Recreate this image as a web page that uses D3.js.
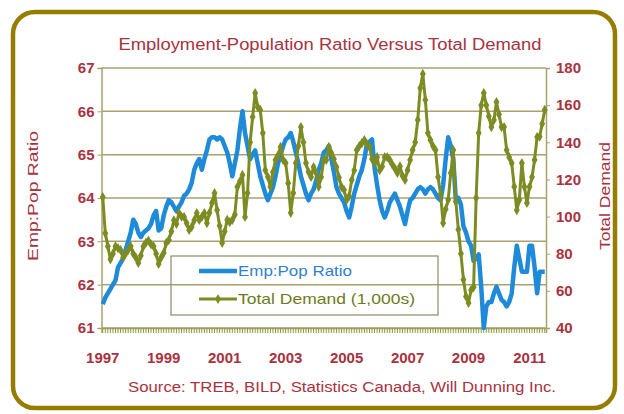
<!DOCTYPE html>
<html>
<head>
<meta charset="utf-8">
<script src="https://cdn.jsdelivr.net/npm/d3@7"></script>
<style>
  body { margin: 0; background: #fff; }
  svg { display: block; font-family: "Liberation Sans", Arial, sans-serif; }
</style>
</head>
<body>
<div id="plot"></div>
<script>
// monthly, Jan 1997 .. Jul 2011
const empPopRatio = [
  61.55, 61.7, 61.8, 61.9, 62.0, 62.1, 62.4, 62.5, 62.6, 62.8, 63.0, 63.2,
  63.5, 63.4, 63.2, 63.1, 63.2, 63.25, 63.3, 63.4, 63.6, 63.7, 63.25, 63.3,
  63.6, 63.8, 63.95, 63.9, 63.8, 63.7, 63.8, 63.9, 64.05, 64.1, 64.2, 64.35,
  64.65, 64.8, 64.9, 64.65, 64.9, 65.1, 65.35, 65.4, 65.4, 65.35, 65.4, 65.35,
  65.2, 65.05, 64.8, 64.5, 64.8, 65.1, 65.6, 66.0, 65.5, 65.2, 64.9, 65.0,
  65.1, 64.8, 64.5, 64.3, 64.1, 63.95, 64.1, 64.25, 64.5, 64.8, 65.0, 65.2,
  65.35, 65.4, 65.5, 65.3, 65.05, 64.8, 64.5, 64.3, 64.1, 63.95, 64.1, 64.2,
  64.4, 64.65, 64.8, 65.05, 65.1, 65.2, 64.9, 64.6, 64.25, 64.1, 64.0, 63.9,
  63.7, 63.55, 63.8, 64.1, 64.3, 64.5, 64.65, 64.9, 65.25, 65.3, 65.35, 64.7,
  64.3, 63.95, 63.7, 63.55, 63.7, 63.9, 64.0, 64.1, 63.95, 63.8, 63.6, 63.4,
  63.7, 63.95, 64.0, 64.1, 64.2, 64.25, 64.2, 64.1, 64.2, 64.25, 64.2, 64.1,
  64.0, 63.95, 64.3, 64.9, 65.4, 65.2, 64.9, 63.95, 64.0, 63.85, 63.35, 63.2,
  63.0, 62.9, 62.55, 62.6, 62.7, 61.95, 61.0, 61.5, 61.6, 61.6, 61.8, 61.95,
  61.8, 61.65, 61.6, 61.5, 61.6, 61.8, 62.4, 62.9, 62.6, 62.3, 62.3, 62.3,
  62.9, 62.9, 62.4, 61.8, 62.3, 62.3, 62.3
];
const totalDemand = [
  110.5, 91, 84, 77, 80, 84, 83, 82, 78, 80, 82, 84,
  80, 78, 75, 79, 84, 86, 87, 85, 84, 80, 74.5, 78,
  80.4, 85.8, 87.4, 92, 98, 96, 101.9, 100, 99.8, 96.5, 92.8, 94.4,
  98, 101.9, 98.2, 99.8, 101.9, 96.5, 102, 107.3, 112.7, 103.5, 95, 85.8,
  92, 98.2, 97, 98.2, 101, 116, 119, 122.4, 99.8, 112.7, 140, 153.6,
  166.5, 159, 157.4, 145, 125, 121.3, 116, 124, 130.5, 133, 137.5, 130.5,
  128.8, 118, 102, 112.7, 128.8, 138, 148.2, 140, 128.8, 124, 121.3, 126.7,
  123.5, 116, 121.3, 130.5, 130.5, 137.5, 134.2, 131, 126.7, 121, 116, 114.3,
  109, 111, 119.7, 125, 135.8, 138, 139.6, 141.2, 139, 137.5, 131, 128.8,
  132, 125, 127, 132, 132, 130.5, 128, 126, 123.5, 127, 122, 119.7,
  125, 130.5, 135.8, 140, 152, 169.2, 176.8, 162.8, 145, 141.2, 138, 135.8,
  121.3, 112, 96.5, 104, 109, 123.5, 135.8, 108, 93, 80, 66, 57,
  53.5, 60.5, 62, 110, 145, 160, 166.5, 160, 154, 148.2, 152, 161.7,
  155, 148.2, 148.2, 135.8, 132, 128.8, 116, 103.5, 109, 128.8, 116, 107.3,
  116, 121.3, 130.5, 142.8, 143, 150, 157.4
];
const months = d3.range(empPopRatio.length).map(i => d3.timeFormat("%Y-%m")(new Date(1997, i, 1)));
const yearLabels = ["1997", "1999", "2001", "2003", "2005", "2007", "2009", "2011"];
const leftTicks = [61, 62, 63, 64, 65, 66, 67];
const rightTicks = [40, 60, 80, 100, 120, 140, 160, 180];

const W = 624, H = 414;
const plot = {left: 101.5, right: 546, top: 68, bottom: 328};
const red = "#a8323e", blue = "#1e8ad8", green = "#7d8c22", grid = "#a8a270";

const svg = d3.select("#plot").append("svg").attr("width", W).attr("height", H);

// frame
svg.append("rect")
   .attr("x", 13).attr("y", 12).attr("width", 602).attr("height", 396)
   .attr("rx", 22).attr("ry", 22)
   .attr("fill", "#fff").attr("stroke", "#957d00").attr("stroke-width", 4.5);

svg.append("text")
   .attr("x", 330).attr("y", 50).attr("text-anchor", "middle")
   .attr("fill", red).style("font-size", "16px")
   .attr("textLength", 423).attr("lengthAdjust", "spacingAndGlyphs")
   .text("Employment-Population Ratio Versus Total Demand");

const x = d3.scaleBand().domain(months).range([plot.left, plot.right]).paddingInner(0).paddingOuter(0);
const cx = m => x(m) + x.bandwidth() / 2;
const yL = d3.scaleLinear().domain([61, 67]).range([plot.bottom, plot.top]);
const yR = d3.scaleLinear().domain([40, 180]).range([plot.bottom, plot.top]);

// gridlines
svg.append("g").selectAll("line").data(leftTicks).join("line")
   .attr("x1", plot.left).attr("x2", plot.right)
   .attr("y1", d => yL(d)).attr("y2", d => yL(d))
   .attr("stroke", grid).attr("stroke-width", 1.5);

// left axis
const gl = svg.append("g").attr("transform", `translate(${plot.left},0)`)
   .call(d3.axisLeft(yL).tickValues(leftTicks).tickFormat(d3.format("d")).tickSize(4).tickPadding(3));
gl.select(".domain").attr("stroke", grid).attr("stroke-width", 1.5);
gl.selectAll(".tick line").attr("stroke", grid);
gl.selectAll("text").attr("fill", red).style("font-size", "15px").style("font-weight", "bold");

// right axis
const gr = svg.append("g").attr("transform", `translate(${plot.right},0)`)
   .call(d3.axisRight(yR).tickValues(rightTicks).tickSize(4).tickPadding(6));
gr.select(".domain").attr("stroke", grid).attr("stroke-width", 1.5);
gr.selectAll(".tick line").attr("stroke", grid);
gr.selectAll("text").attr("fill", red).style("font-size", "15px").style("font-weight", "bold");

// bottom axis: monthly ticks, labels every two years
const gb = svg.append("g").attr("transform", `translate(0,${plot.bottom})`)
   .call(d3.axisBottom(x).tickValues(months).tickSize(5).tickFormat(""));
gb.select(".domain").attr("stroke", grid).attr("stroke-width", 1.5);
gb.selectAll(".tick line").attr("stroke", "#8a9a3a");
svg.append("g").selectAll("text").data(yearLabels).join("text")
   .attr("x", d => cx(d + "-01")).attr("y", 363)
   .attr("text-anchor", "middle").attr("fill", red)
   .style("font-size", "15px").style("font-weight", "bold")
   .text(d => d);

// axis titles
svg.append("text").attr("transform", "translate(38,196) rotate(-90)")
   .attr("text-anchor", "middle").attr("fill", red).style("font-size", "15px")
   .attr("textLength", 130).attr("lengthAdjust", "spacingAndGlyphs")
   .text("Emp:Pop Ratio");
svg.append("text").attr("transform", "translate(610,196) rotate(-90)")
   .attr("text-anchor", "middle").attr("fill", red).style("font-size", "15px")
   .attr("textLength", 108).attr("lengthAdjust", "spacingAndGlyphs")
   .text("Total Demand");

// series
svg.append("path").datum(empPopRatio)
   .attr("fill", "none").attr("stroke", blue).attr("stroke-width", 4.5)
   .attr("stroke-linejoin", "round")
   .attr("d", d3.line().x((d, i) => cx(months[i])).y(d => yL(d)));

svg.append("path").datum(totalDemand)
   .attr("fill", "none").attr("stroke", green).attr("stroke-width", 3)
   .attr("stroke-linejoin", "round")
   .attr("d", d3.line().x((d, i) => cx(months[i])).y(d => yR(d)));

const diamond = d3.symbol().type(d3.symbolDiamond).size(30);
svg.append("g").selectAll("path").data(totalDemand).join("path")
   .attr("transform", (d, i) => `translate(${cx(months[i])},${yR(d)})`)
   .attr("d", diamond).attr("fill", green);

// legend
const lg = svg.append("g");
lg.append("rect").attr("x", 171).attr("y", 256).attr("width", 267).attr("height", 59)
  .attr("fill", "none").attr("stroke", "#8c8a68").attr("stroke-width", 1.2);
lg.append("line").attr("x1", 199).attr("x2", 237).attr("y1", 271).attr("y2", 271)
  .attr("stroke", blue).attr("stroke-width", 4.5);
lg.append("text").attr("x", 238).attr("y", 276).attr("fill", "#2f80cc")
  .style("font-size", "15px").attr("textLength", 114).attr("lengthAdjust", "spacingAndGlyphs")
  .text("Emp:Pop Ratio");
lg.append("line").attr("x1", 199).attr("x2", 237).attr("y1", 299).attr("y2", 299)
  .attr("stroke", green).attr("stroke-width", 3);
lg.append("path").attr("transform", "translate(218,299)").attr("d", diamond).attr("fill", green);
lg.append("text").attr("x", 238).attr("y", 304).attr("fill", "#6e7a20")
  .style("font-size", "15px").attr("textLength", 177).attr("lengthAdjust", "spacingAndGlyphs")
  .text("Total Demand (1,000s)");

svg.append("text")
   .attr("x", 342).attr("y", 392).attr("text-anchor", "middle")
   .attr("fill", red).style("font-size", "14px")
   .attr("textLength", 428).attr("lengthAdjust", "spacingAndGlyphs")
   .text("Source: TREB, BILD, Statistics Canada, Will Dunning Inc.");
</script>
</body>
</html>
